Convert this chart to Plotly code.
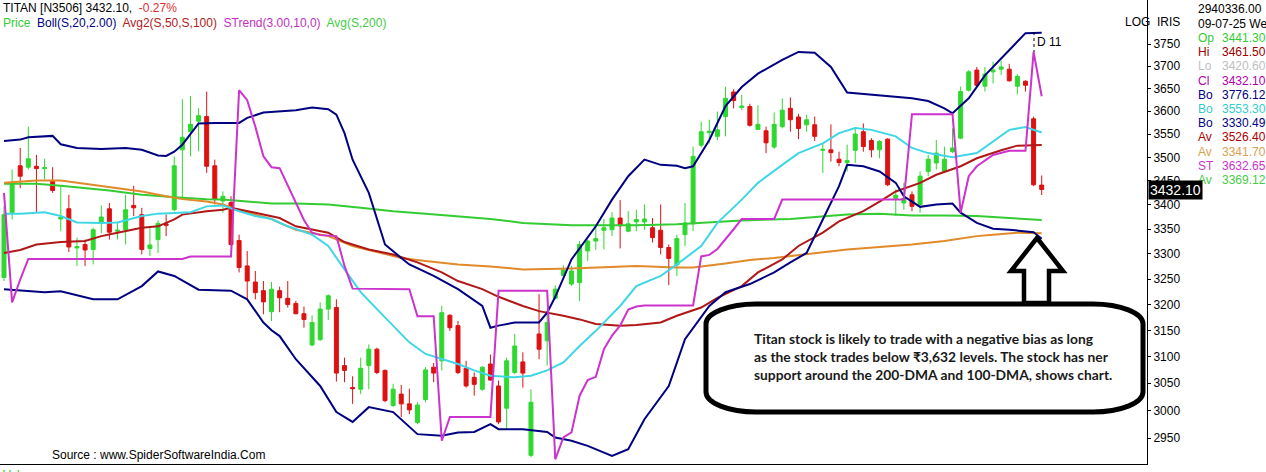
import plotly.graph_objects as go

# ---------------- data ----------------
opens = [3253,3384,3482,3479,3481,3476,3449,3371,3392,3312,3319,3309,3365,3392,3346,3349,3399,3380,3311,3329,
         3361,3390,3516,3555,3578,3588,3482,3408,3405,3327,3276,3244,3227,3186,3227,3212,3202,3182,3122,3132,
         3191,3194,3083,3042,3039,3083,3114,3074,3009,3030,3012,2978,3020,3080,3092,3179,3159,3078,3061,3039,
         3086,3045,3004,3070,3090,2919,3143,3130,3212,3257,3240,3243,3306,3326,3348,3349,3373,3346,3365,3365,
         3353,3348,3313,3278,3339,3361,3526,3553,3545,3588,3642,3608,3610,3560,3557,3522,3566,3606,3587,3570,
         3570,3515,3516,3496,3489,3515,3555,3536,3516,3539,3414,3404,3421,3401,3470,3488,3470,3512,3541,3646,
         3691,3655,3687,3693,3693,3655,3666,3583,3441.3]
highs = [3397,3474,3520,3566,3505,3497,3479,3439,3421,3333,3329,3353,3399,3404,3363,3421,3440,3394,3356,3368,
         3380,3502,3626,3633,3606,3643,3495,3428,3418,3339,3306,3266,3246,3244,3235,3246,3207,3196,3179,3204,
         3220,3210,3098,3063,3098,3123,3117,3076,3049,3047,3040,3015,3080,3088,3197,3181,3168,3092,3070,3082,
         3104,3055,3098,3143,3108,3039,3220,3188,3237,3277,3276,3326,3329,3356,3371,3385,3410,3387,3390,3401,
         3373,3401,3319,3339,3404,3523,3577,3581,3599,3654,3648,3636,3616,3613,3566,3597,3628,3630,3594,3592,
         3588,3530,3571,3512,3527,3562,3573,3541,3537,3541,3432,3446,3428,3470,3505,3537,3523,3562,3654,3691,
         3698,3698,3710,3712,3705,3682,3668,3588,3461.5]
lows = [3246,3370,3435,3474,3384,3453,3425,3346,3304,3276,3276,3279,3342,3329,3329,3319,3377,3299,3296,3302,
        3336,3387,3410,3502,3513,3467,3401,3384,3316,3263,3210,3210,3181,3168,3185,3194,3181,3155,3120,3130,
        3170,3053,3052,3012,3030,3039,3067,3015,3006,2988,2993,2975,3015,3052,3074,3149,3067,3042,3027,3036,
        3055,2975,2966,3067,3042,2916,3095,3083,3210,3249,3236,3207,3286,3308,3309,3336,3311,3344,3346,3349,
        3323,3299,3238,3256,3316,3346,3521,3530,3537,3545,3606,3602,3566,3559,3509,3518,3562,3555,3539,3555,
        3535,3467,3491,3481,3470,3488,3512,3500,3498,3439,3377,3390,3387,3384,3460,3474,3467,3509,3539,3643,
        3654,3643,3661,3680,3665,3637,3643,3439,3420.6]
closes = [3380,3446,3460,3497,3476,3478,3430,3374,3314,3315,3308,3349,3375,3344,3348,3390,3394,3309,3318,3362,
          3358,3482,3543,3571,3590,3481,3411,3418,3319,3273,3246,3223,3205,3230,3213,3200,3182,3171,3165,3191,
          3217,3069,3074,3040,3078,3114,3070,3018,3039,3012,3001,3010,3075,3069,3184,3155,3070,3045,3048,3080,
          3056,2979,3092,3120,3069,3015,3114,3165,3230,3268,3266,3319,3326,3331,3353,3373,3357,3361,3370,3371,
          3333,3313,3291,3331,3363,3502,3555,3556,3559,3628,3623,3611,3569,3571,3531,3571,3602,3581,3562,3581,
          3545,3517,3510,3489,3493,3550,3523,3516,3534,3442,3420,3414,3397,3460,3496,3509,3496,3520,3643,3687,
          3657,3682,3691,3698,3667,3677,3657,3442,3432.1]
days = list(range(len(closes)))

bb_up_idx = [0,2,3,6,7,9,12,15,17,19,20,21,22,24,26,29,30,32,36,38,40,41,42,43,45,46,47,49,50,53,56,59,60,61,
             63,66,67,68,70,73,75,77,79,81,83,84,85,87,89,91,93,96,98,100,102,104,106,109,112,114,116,117,119,
             121,124,126,128]
bb_up = [3535,3538,3543,3546,3528,3520,3518,3520,3516,3504,3503,3512,3527,3573,3574,3574,3585,3597,3602,3608,
         3604,3592,3552,3495,3425,3370,3319,3292,3279,3256,3230,3197,3155,3159,3165,3165,3184,3215,3289,3356,
         3411,3460,3495,3484,3482,3477,3481,3537,3611,3653,3683,3714,3732,3730,3698,3641,3638,3633,3628,3622,
         3606,3595,3628,3679,3736,3775,3776.12]

bb_lo_idx = [0,2,5,7,11,14,17,19,21,24,28,30,32,33,34,36,39,41,43,45,48,51,54,56,58,60,61,64,67,68,70,72,75,77,
             79,82,84,87,89,92,95,97,99,101,103,104,106,108,110,111,113,115,117,118,120,122,124,127,128]
bb_lo = [3230,3227,3224,3226,3210,3210,3236,3265,3256,3229,3227,3210,3165,3150,3139,3095,3045,2997,2979,3006,
         2997,2957,2954,2960,2961,2975,2966,2966,2961,2951,2945,2936,2918,2930,2984,3045,3133,3197,3224,3240,
         3263,3283,3302,3370,3439,3484,3481,3470,3446,3418,3396,3401,3403,3384,3363,3351,3349,3344,3330.49]

bb_mid_idx = [0,2,5,7,9,12,14,17,19,21,23,25,27,29,31,33,35,38,40,42,44,46,48,50,52,54,56,58,60,63,65,67,69,71,
              73,76,78,81,83,86,88,91,93,96,98,101,103,105,107,110,112,114,117,120,122,124,126,128]
bb_mid = [3382,3382,3385,3377,3364,3363,3364,3377,3382,3384,3385,3397,3399,3387,3377,3371,3356,3339,3316,3269,
          3224,3191,3159,3127,3105,3095,3086,3074,3064,3061,3064,3074,3089,3120,3149,3197,3236,3256,3279,3316,
          3363,3411,3446,3484,3509,3530,3552,3563,3559,3545,3520,3509,3500,3509,3534,3559,3565,3553.30]

avg50_idx = [0,2,4,7,10,12,14,17,19,21,22,25,27,28,31,33,34,36,40,42,45,48,51,54,56,59,61,64,66,69,71,73,76,78,
             81,83,86,88,91,93,96,98,101,103,106,108,110,113,115,118,120,123,125,128]
avg50 = [3302,3308,3319,3324,3326,3336,3343,3353,3356,3370,3380,3387,3390,3394,3384,3377,3373,3356,3343,3324,
         3309,3299,3283,3263,3246,3230,3215,3197,3187,3178,3171,3162,3159,3160,3165,3178,3194,3213,3236,3263,
         3289,3316,3343,3366,3387,3407,3428,3446,3463,3481,3498,3515,3525,3526.40]

avg100_idx = [0,2,4,7,10,14,17,20,22,25,27,29,31,33,34,36,40,43,46,49,52,56,60,64,70,74,78,83,85,89,92,95,100,
              104,108,112,116,120,122,125,128]
avg100 = [3446,3449,3451,3451,3444,3435,3428,3418,3412,3407,3401,3389,3380,3371,3363,3349,3336,3316,3304,3292,
          3286,3279,3275,3269,3271,3273,3276,3273,3273,3281,3288,3292,3302,3309,3314,3319,3326,3336,3339,3343,
          3341.70]

avg200_idx = [0,4,7,10,13,17,20,22,25,27,30,33,36,40,44,48,52,56,60,64,67,70,74,78,83,87,91,97,104,108,112,116,
              120,124,128]
avg200 = [3444,3444,3440,3435,3430,3421,3417,3415,3412,3411,3407,3403,3403,3401,3394,3387,3382,3377,3371,3363,
          3360,3358,3358,3358,3360,3364,3368,3371,3380,3382,3378,3378,3377,3373,3369.12]

st_idx = [0,1,2,3,22,23,28,29,30,31,32,33,34,35,36,37,38,39,41,42,43,50,51,53,54,55,60,61,67,68,69,70,71,72,73,
          74,75,76,77,78,79,85,86,87,88,89,90,91,95,96,111,112,117,118,119,120,122,124,126,127,128]
strend = [3425,3204,3249,3290,3290,3295,3295,3646,3624,3566,3502,3479,3477,3440,3404,3369,3343,3338,3336,3276,
          3231,3230,3177,3177,2945,2988,2988,3227,3227,2912,2951,2960,3027,3056,3062,3114,3140,3159,3190,3196,
          3198,3198,3295,3298,3310,3329,3350,3371,3371,3411,3411,3593,3593,3384,3460,3481,3505,3514,3514,3732,
          3632.65]

y_ticks = [2950,3000,3050,3100,3150,3200,3250,3300,3350,3400,3450,3500,3550,3600,3650,3700,3750]

header_name = "TITAN [N3506] 3432.10,"
header_chg = "-0.27%"
legend_items = [("Price", "#33cc33"), ("Boll(S,20,2.00)", "#000080"), ("Avg2(S,50,S,100)", "#b02020"),
                ("STrend(3.00,10,0)", "#c030c0"), ("Avg(S,200)", "#44cc44")]
panel_rows = [("Op", "3441.30", "#33cc33"), ("Hi", "3461.50", "#990000"), ("Lo", "3420.60", "#c0c0c0"),
              ("Cl", "3432.10", "#b000b0"), ("Bo", "3776.12", "#000080"), ("Bo", "3553.30", "#33cccc"),
              ("Bo", "3330.49", "#000080"), ("Av", "3526.40", "#aa0000"), ("Av", "3341.70", "#d9a050"),
              ("ST", "3632.65", "#cc33cc"), ("Av", "3369.12", "#44cc44")]
note_lines = ["Titan stock is likely to trade with a negative bias as long",
              "as the stock trades below ₹3,632 levels. The stock has ner",
              "support around the 200-DMA and 100-DMA, shows chart."]

# ---------------- figure ----------------
W, H = 1266, 472
PL, PR, PT, PB = 0, 1147, 0, 464   # plot area in pixels


def px(x):
    return (x - PL) / (PR - PL)


def py(y):
    return 1 - (y - PT) / (PB - PT)


fig = go.Figure()
fig.add_trace(go.Candlestick(
    x=days, open=opens, high=highs, low=lows, close=closes,
    increasing=dict(line=dict(color="#2fd82f", width=1), fillcolor="#2fd82f"),
    decreasing=dict(line=dict(color="#dd1111", width=1), fillcolor="#dd1111"),
    whiskerwidth=0, hoverinfo="skip", showlegend=False))

lines = [
    (avg200_idx, avg200, "#33cc33"),
    (avg100_idx, avg100, "#e08a2a"),
    (avg50_idx, avg50, "#b01818"),
    (bb_mid_idx, bb_mid, "#3fd6e6"),
    (bb_up_idx, bb_up, "#000080"),
    (bb_lo_idx, bb_lo, "#000080"),
    (st_idx, strend, "#cc33cc"),
]
for xi, yv, col in lines:
    fig.add_trace(go.Scatter(x=xi, y=yv, mode="lines", line=dict(color=col, width=2),
                             hoverinfo="skip", showlegend=False))

x0 = -4 / 8.107
x1 = (PR - 4) / 8.107
fig.update_layout(
    width=W, height=H,
    margin=dict(l=PL, r=W - PR, t=PT, b=H - PB, autoexpand=False),
    paper_bgcolor="white", plot_bgcolor="white",
    font=dict(family="Liberation Sans, Arial, sans-serif", size=12, color="black"),
    xaxis=dict(range=[x0, x1], showgrid=False, zeroline=False, showticklabels=False, ticks="",
               showline=True, linecolor="black", linewidth=1, rangeslider=dict(visible=False),
               fixedrange=True),
    yaxis=dict(type="log", range=[3.46295, 3.58568], side="right", showgrid=False, zeroline=False,
               tickvals=y_ticks, ticktext=[str(v) for v in y_ticks], ticks="outside", ticklen=3,
               tickcolor="black", showline=True, linecolor="black", linewidth=1,
               tickfont=dict(family="Liberation Sans, Arial, sans-serif", size=12, color="black"),
               fixedrange=True),
)

ann = []
# header
ann.append(dict(x=px(1), y=py(8), xref="paper", yref="paper", xanchor="left", yanchor="middle",
                showarrow=False, font=dict(size=12, color="black"),
                text=header_name + " <span style='color:#e03030'> " + header_chg + "</span>"))
ann.append(dict(x=px(1), y=py(23), xref="paper", yref="paper", xanchor="left", yanchor="middle",
                showarrow=False, font=dict(size=12),
                text="  ".join("<span style='color:%s'>%s</span>" % (c, t) for t, c in legend_items)))
ann.append(dict(x=px(1123), y=py(22), xref="paper", yref="paper", xanchor="left", yanchor="middle",
                showarrow=False, text="LOG", font=dict(size=12)))
ann.append(dict(x=px(1155), y=py(22), xref="paper", yref="paper", xanchor="left", yanchor="middle",
                showarrow=False, text="IRIS", font=dict(size=12)))
# right panel
ann.append(dict(x=px(1196), y=py(9), xref="paper", yref="paper", xanchor="left", yanchor="middle",
                showarrow=False, text="2940336.00", font=dict(size=12)))
ann.append(dict(x=px(1196), y=py(24), xref="paper", yref="paper", xanchor="left", yanchor="middle",
                showarrow=False, text="09-07-25 We", font=dict(size=12)))
for k, (lab, val, col) in enumerate(panel_rows):
    yy = 38 + k * 14.2
    ann.append(dict(x=px(1196), y=py(yy), xref="paper", yref="paper", xanchor="left", yanchor="middle",
                    showarrow=False, text=lab, font=dict(size=12, color=col)))
    ann.append(dict(x=px(1220), y=py(yy), xref="paper", yref="paper", xanchor="left", yanchor="middle",
                    showarrow=False, text=val, font=dict(size=12, color=col)))
# last price tag
ann.append(dict(x=px(1148), y=py(190), xref="paper", yref="paper", xanchor="left", yanchor="middle",
                showarrow=False, text="3432.10", bgcolor="black", borderpad=1,
                font=dict(size=14, color="white")))
# D 11 marker
ann.append(dict(x=px(1035), y=py(42), xref="paper", yref="paper", xanchor="left", yanchor="middle",
                showarrow=False, text="D 11", font=dict(size=12)))
# source & bottom
ann.append(dict(x=px(50), y=py(455), xref="paper", yref="paper", xanchor="left", yanchor="middle",
                showarrow=False, text="Source : www.SpiderSoftwareIndia.Com", font=dict(size=12)))
ann.append(dict(x=px(1), y=py(475), xref="paper", yref="paper", xanchor="left", yanchor="middle",
                showarrow=False, text="Vol", font=dict(size=12, color="#33cc33")))
# note text
ann.append(dict(x=px(752), y=py(356), xref="paper", yref="paper", xanchor="left", yanchor="middle",
                align="left", showarrow=False,
                text="<br>".join("<b>%s</b>" % s for s in note_lines),
                font=dict(family="Lato, Noto Sans, sans-serif", size=13.8, color="#1a1a1a")))
fig.update_layout(annotations=ann)

# arrow
arrow_pts = [(1037, 238), (1063, 271), (1049, 271), (1049, 303), (1024, 303), (1024, 271), (1011, 271)]
arrow_path = "M " + " L ".join("%.5f,%.5f" % (px(a), py(b)) for a, b in arrow_pts) + " Z"

L_, R_, T_, B_ = 706, 1143, 304, 412
rx, ry = 50, 20
k = 0.45


def P(a, b):
    return "%.5f,%.5f" % (px(a), py(b))


box_path = ("M " + P(L_ + rx, T_) + " L " + P(R_ - rx, T_) +
            " C " + P(R_ - rx * k, T_) + " " + P(R_, T_ + ry * k) + " " + P(R_, T_ + ry) +
            " L " + P(R_, B_ - ry) +
            " C " + P(R_, B_ - ry * k) + " " + P(R_ - rx * k, B_) + " " + P(R_ - rx, B_) +
            " L " + P(L_ + rx, B_) +
            " C " + P(L_ + rx * k, B_) + " " + P(L_, B_ - ry * k) + " " + P(L_, B_ - ry) +
            " L " + P(L_, T_ + ry) +
            " C " + P(L_, T_ + ry * k) + " " + P(L_ + rx * k, T_) + " " + P(L_ + rx, T_) + " Z")

fig.update_layout(shapes=[
    dict(type="path", xref="paper", yref="paper", path=arrow_path, line=dict(color="black", width=4.5),
         fillcolor="white", layer="above"),
    dict(type="path", xref="paper", yref="paper", path=box_path, line=dict(color="black", width=5),
         fillcolor="white", layer="above"),
    dict(type="line", xref="paper", yref="paper", x0=px(1034), x1=px(1034), y0=py(32), y1=py(52),
         line=dict(color="black", width=1, dash="dot"), layer="above"),
])

fig.write_html("out.html", config={"displayModeBar": False, "staticPlot": True},
               post_script="document.body.style.margin='0';document.body.style.overflow='hidden';")
